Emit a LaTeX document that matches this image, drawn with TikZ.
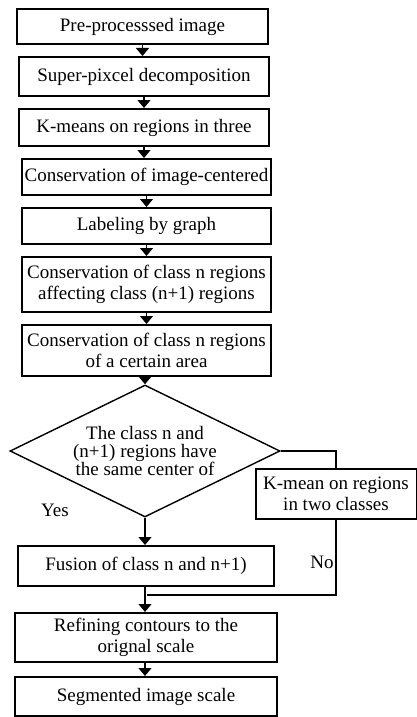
\documentclass[tikz,border=0pt]{standalone}
\usepackage{fontspec}
\setmainfont{Liberation Serif}
\usetikzlibrary{arrows.meta,shapes.geometric}
\begin{document}
\begin{tikzpicture}[x=1pt, y=-1pt, >={Triangle[width=13pt,length=8pt]}, font=\fontsize{19}{21}\selectfont,
		stage/.style={draw, line width=2pt, inner sep=0pt, align=center},
		link/.style={line width=1.2pt}]
			\useasboundingbox (0,0) rectangle (417,717);
			% main column
			\node[stage, minimum width=251pt, minimum height=35pt] (pre) at (142.5,26.5) {Pre-processsed image};
			\node[stage, minimum width=250pt, minimum height=39pt] (spx) at (144,76.5) {Super-pixcel decomposition};
			\node[stage, minimum width=250pt, minimum height=37pt] (km3) at (144,127.5) {K-means on regions in three};
			\node[stage, minimum width=249pt, minimum height=36pt] (cic) at (146.5,177) {Conservation of image-centered};
			\node[stage, minimum width=249pt, minimum height=36pt] (lab) at (146.5,226) {Labeling by graph};
			\node[stage, minimum width=249pt, minimum height=55pt] (aff) at (146.5,284.5) {Conservation of class n regions\\affecting class (n+1) regions};
			\node[stage, minimum width=249pt, minimum height=51pt] (area) at (146.5,350.5) {Conservation of class n regions\\of a certain area};
			\node[draw, line width=1.4pt, diamond, aspect=2.05, inner sep=0pt, minimum width=270pt, minimum height=132pt, align=center,
				font=\fontsize{19}{18}\selectfont] (dec) at (145,451) {The class n and\\(n+1) regions have\\the same center of};
			\node[stage, minimum width=161pt, minimum height=50pt] (km2) at (336,494) {K-mean on regions\\in two classes};
			\node[stage, minimum width=256pt, minimum height=40pt] (fus) at (146,566) {Fusion of class n and n+1)};
			\node[stage, minimum width=262pt, minimum height=49pt] (ref) at (146,637.5) {Refining contours to the\\orignal scale};
			\node[stage, minimum width=262pt, minimum height=39pt] (seg) at (146,696.5) {Segmented image scale};
			\node (yes) at (55,510) {Yes};
			\node (no) at (322,562) {No};
			\coordinate (join) at (147,595);
			% connectors
			\draw[link, ->] (pre.south) -- (pre.south |- spx.north);
			\draw[link, ->] (spx.south) -- (spx.south |- km3.north);
			\draw[link, ->] (km3.south) -- (km3.south |- cic.north);
			\draw[link, ->] (cic.south) -- (cic.south |- lab.north);
			\draw[link, ->] (lab.south) -- (lab.south |- aff.north);
			\draw[link, ->] (aff.south) -- (aff.south |- area.north);
			\draw[link, ->] (area.south -| dec.north) -- (dec.north);
			\draw[link, ->] (dec.south) -- (dec.south |- fus.north);
			\draw[link] (dec.east) -| (km2.north);
			\draw[link] (km2.south) |- (join);
			\draw[link, ->] (dec.south |- fus.south) -- (dec.south |- ref.north);
			\draw[link, ->] (dec.south |- ref.south) -- (dec.south |- seg.north);
		\end{tikzpicture}
\end{document}
